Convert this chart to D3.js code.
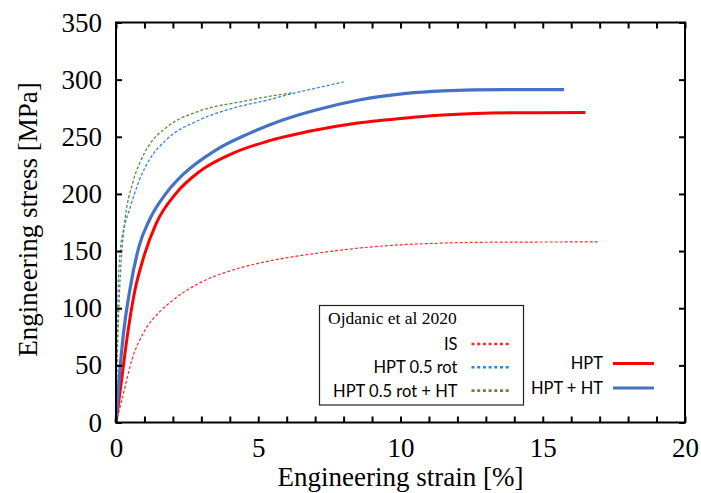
<!DOCTYPE html>
<html>
<head>
<meta charset="utf-8">
<script src="https://cdn.jsdelivr.net/npm/d3@7"></script>
<style>
  body { margin: 0; background: #fff; }
  svg { display: block; }
</style>
</head>
<body>
<svg id="chart" width="701" height="493"></svg>
<script>
// Axis ticks
const strainTicks = [0, 5, 10, 15, 20];
const strainMinorTicks = d3.range(0, 21, 1);
const stressTicks = [0, 50, 100, 150, 200, 250, 300, 350];

// HPT (solid red)
const hptStrain = [0, 0.2, 0.4, 0.66, 0.94, 1.41, 2.11, 2.93, 4.1, 5.27, 7.03, 8.5, 10.2, 11.5, 12.6, 14.0, 16.5];
const hptStress = [0, 38, 76, 115, 142, 174, 200.5, 219.5, 235.5, 245.7, 255.9, 262, 266.5, 269, 270.3, 271, 271.2];

// HPT + HT (solid blue)
const hptHtStrain = [0, 0.1, 0.25, 0.5, 0.82, 1.17, 1.76, 2.34, 3.51, 4.69, 5.86, 7.03, 8.5, 10.2, 11.5, 12.6, 14.0, 15.75];
const hptHtStress = [0, 35, 75, 118, 155, 177, 200.5, 216.6, 238.4, 253, 264.7, 273.5, 282, 288, 290.2, 291, 291.3, 291.3];

// Ojdanic et al 2020: IS (dotted red)
const isStrain = [0, 0.21, 0.56, 1.0, 1.5, 2.0, 2.93, 4.1, 5.27, 7.03, 8.5, 10.0, 11.5, 13.5, 17.0];
const isStress = [0, 20, 55, 80, 96, 107, 122, 133.4, 140.7, 148, 152.5, 155.5, 157, 157.8, 158];

// Ojdanic et al 2020: HPT 0.5 rot (dotted blue)
const rotStrain = [0, 0.03, 0.07, 0.15, 0.3, 0.47, 0.82, 1.17, 1.76, 2.93, 4.1, 5.3, 6.23, 7.2, 8.0];
const rotStress = [0, 60, 112, 150, 172, 186, 212, 229.7, 247.2, 264.7, 275, 282, 288, 293.5, 298];

// Ojdanic et al 2020: HPT 0.5 rot + HT (dotted green)
const rotHtStrain = [0, 0.05, 0.1, 0.15, 0.2, 0.29, 0.59, 0.85, 1.17, 1.76, 2.93, 4.47, 5.3, 6.23];
const rotHtStress = [0, 60, 100, 128, 148, 172, 210, 228, 243, 258, 272.5, 281, 285, 288.6];

const seriesList = [
  { name: "IS",               strain: isStrain,    stress: isStress,    color: "#ff2a2a", width: 1.2, dash: "3,2" },
  { name: "HPT 0.5 rot",      strain: rotStrain,   stress: rotStress,   color: "#2f86d6", width: 1.3, dash: "3,2" },
  { name: "HPT 0.5 rot + HT", strain: rotHtStrain, stress: rotHtStress, color: "#5e8c3a", width: 1.3, dash: "3,2" },
  { name: "HPT",              strain: hptStrain,   stress: hptStress,   color: "#ff0000", width: 3,   dash: null },
  { name: "HPT + HT",         strain: hptHtStrain, stress: hptHtStress, color: "#4472c4", width: 3.2, dash: null }
];

const svg = d3.select("#chart");
const plotLeft = 116, plotRight = 685, plotTop = 22.5, plotBottom = 422.5;

const x = d3.scaleLinear().domain([0, 20]).range([plotLeft, plotRight]);
const y = d3.scaleLinear().domain([0, 350]).range([plotBottom, plotTop]);

const serif = "'Liberation Serif', 'Times New Roman', serif";
const sans = "Lato, 'Open Sans', sans-serif";

// Curves
const line = d3.line()
  .x(d => x(d[0]))
  .y(d => y(d[1]))
  .curve(d3.curveMonotoneX);

const plot = svg.append("g");
seriesList.forEach(s => {
  const pts = s.strain.map((v, i) => [v, s.stress[i]]);
  plot.append("path")
    .datum(pts)
    .attr("fill", "none")
    .attr("stroke", s.color)
    .attr("stroke-width", s.width)
    .attr("stroke-dasharray", s.dash)
    .attr("stroke-linejoin", "round")
    .attr("d", line);
});

// Axes with inward ticks
function styleAxis(g) {
  g.select(".domain").remove();
  g.selectAll(".tick line").attr("stroke", "#000").attr("stroke-width", 2);
  g.selectAll(".tick text").attr("fill", "#000").attr("font-family", serif).attr("font-size", 27);
}

svg.append("g")
  .attr("transform", `translate(0,${plotBottom})`)
  .call(d3.axisBottom(x).tickValues(strainMinorTicks).tickSize(-6).tickPadding(15)
    .tickFormat(d => strainTicks.includes(d) ? d : ""))
  .call(styleAxis);

svg.append("g")
  .attr("transform", `translate(0,${plotTop})`)
  .call(d3.axisTop(x).tickValues(strainMinorTicks).tickSize(-6).tickFormat(""))
  .call(styleAxis);

svg.append("g")
  .attr("transform", `translate(${plotLeft},0)`)
  .call(d3.axisLeft(y).tickValues(stressTicks).tickSize(-6).tickPadding(14))
  .call(styleAxis);

svg.append("g")
  .attr("transform", `translate(${plotRight},0)`)
  .call(d3.axisRight(y).tickValues(stressTicks).tickSize(-6).tickFormat(""))
  .call(styleAxis);

// Frame
svg.append("rect")
  .attr("x", plotLeft).attr("y", plotTop)
  .attr("width", plotRight - plotLeft).attr("height", plotBottom - plotTop)
  .attr("fill", "none").attr("stroke", "#000").attr("stroke-width", 2);

// Axis titles
svg.append("text")
  .attr("x", (plotLeft + plotRight) / 2).attr("y", 486)
  .attr("text-anchor", "middle")
  .attr("font-family", serif).attr("font-size", 27)
  .text("Engineering strain [%]");

svg.append("text")
  .attr("transform", `translate(37,${(plotTop + plotBottom) / 2 - 3}) rotate(-90)`)
  .attr("text-anchor", "middle")
  .attr("font-family", serif).attr("font-size", 27)
  .text("Engineering stress [MPa]");

// Literature legend (boxed)
const boxed = seriesList.slice(0, 3);
svg.append("rect")
  .attr("x", 319.5).attr("y", 305.5).attr("width", 204).attr("height", 99.5)
  .attr("fill", "#fff").attr("stroke", "#222").attr("stroke-width", 1.2);
svg.append("text")
  .attr("x", 328).attr("y", 324)
  .attr("font-family", serif).attr("font-size", 17.5)
  .text("Ojdanic et al 2020");
boxed.forEach((s, i) => {
  const yy = 344 + i * 23.3;
  svg.append("text")
    .attr("x", 457.5).attr("y", yy).attr("dy", "0.36em")
    .attr("text-anchor", "end")
    .attr("font-family", sans).attr("font-size", 16.5)
    .text(s.name);
  svg.append("line")
    .attr("x1", 471.5).attr("x2", 511).attr("y1", yy).attr("y2", yy)
    .attr("stroke", s.color).attr("stroke-width", 2.6).attr("stroke-dasharray", "3,2.7");
});

// Present-work legend
const plain = seriesList.slice(3);
plain.forEach((s, i) => {
  const yy = 363.5 + i * 24.5;
  svg.append("text")
    .attr("x", 603).attr("y", yy).attr("dy", "0.36em")
    .attr("text-anchor", "end")
    .attr("font-family", sans).attr("font-size", 16.5)
    .text(s.name);
  svg.append("line")
    .attr("x1", 613).attr("x2", 654).attr("y1", yy).attr("y2", yy)
    .attr("stroke", s.color).attr("stroke-width", 3);
});
</script>
</body>
</html>
